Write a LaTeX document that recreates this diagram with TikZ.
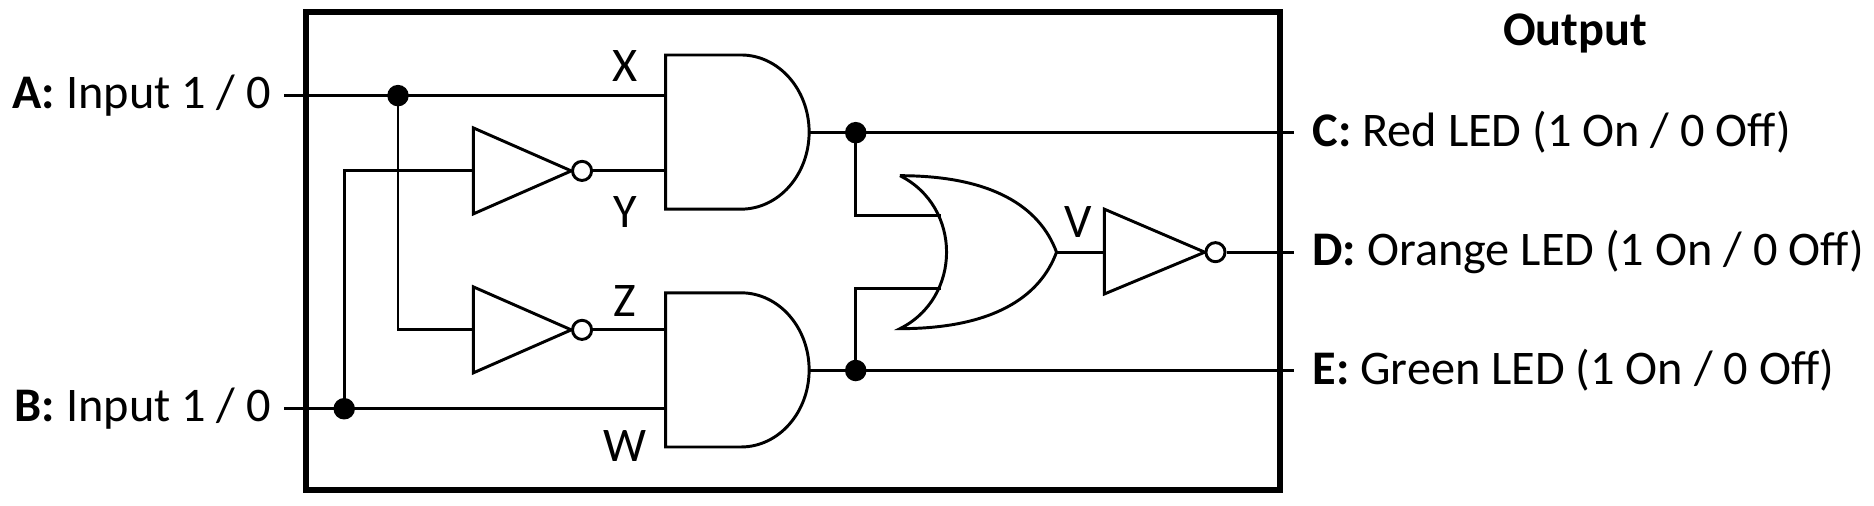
\documentclass[tikz,border=0pt]{standalone}
\usepackage{fontspec}
\setmainfont{Carlito}
\begin{document}
\begin{tikzpicture}[x=0.02cm,y=0.02cm,line width=1.4pt,
  lbl/.style={font=\fontsize{23}{27}\selectfont,inner sep=0pt},
  dotc/.style={circle,fill=black,inner sep=0pt,minimum size=0.36cm},
  bub/.style={circle,draw,fill=white,inner sep=0pt,minimum size=0.32cm}]
\useasboundingbox (0,0) rectangle (1568,423);
\draw[line width=2.8pt] (256,13) rectangle (1071,413);
% labels
\node[lbl,anchor=east] (A) at (228,343) {\textbf{A:} Input 1 / 0};
\node[lbl,anchor=east] (B) at (228,81) {\textbf{B:} Input 1 / 0};
\node[lbl,anchor=west] (C) at (1097,312) {\textbf{C:} Red LED (1 On / 0 Off)};
\node[lbl,anchor=west] (D) at (1097,212) {\textbf{D:} Orange LED (1 On / 0 Off)};
\node[lbl,anchor=west] (E) at (1097,113) {\textbf{E:} Green LED (1 On / 0 Off)};
\node[lbl,font=\fontsize{23}{27}\selectfont\bfseries] (out) at (1318,395) {Output};
\node[lbl] (X) at (523,368) {X};
\node[lbl] (Y) at (523,246) {Y};
\node[lbl] (Z) at (523,171) {Z};
\node[lbl] (W) at (523,50) {W};
\node[lbl] (V) at (902,237) {V};
% gates
\draw (557,377)--(620,377) arc[start angle=90,end angle=-90,x radius=57,y radius=64.5]--(557,248)--cycle;
\draw (557,178)--(620,178) arc[start angle=90,end angle=-90,x radius=57,y radius=64.5]--(557,49)--cycle;
\draw (396,316)--(478,280)--(396,244)--cycle;
\draw (396,183)--(478,147)--(396,111)--cycle;
\draw (924,248)--(1008,212)--(924,177)--cycle;
\node[bub] (b1) at (487,280) {};
\node[bub] (b2) at (487,147) {};
\node[bub] (b3) at (1017,212) {};
\draw (753,276) .. controls (805,250) and (805,174) .. (753,148)
      .. controls (830,148) and (870,174) .. (884,212)
      .. controls (870,250) and (830,276) .. (753,276);
% dots
\node[dotc] (d1) at (333,343) {};
\node[dotc] (d2) at (288,81) {};
\node[dotc] (d3) at (716,312) {};
\node[dotc] (d4) at (716,113) {};
\coordinate (a0) at (238,343); \coordinate (b0) at (238,81);
% wires
\draw (a0)--(557,343);
\draw (b0)--(557,81);
\draw (d2.center)--(288,280)--(396,280);
\draw (d1.center)--(333,147)--(396,147);
\draw (b1)--(557,280);
\draw (b2)--(557,147);
\draw (677,312)--(1083,312);
\draw (677,113)--(1083,113);
\draw (d3.center)--(716,243)--(787,243);
\draw (d4.center)--(716,182)--(787,182);
\draw (884,212)--(924,212);
\draw (b3)--(1083,212);
\end{tikzpicture}
\end{document}
